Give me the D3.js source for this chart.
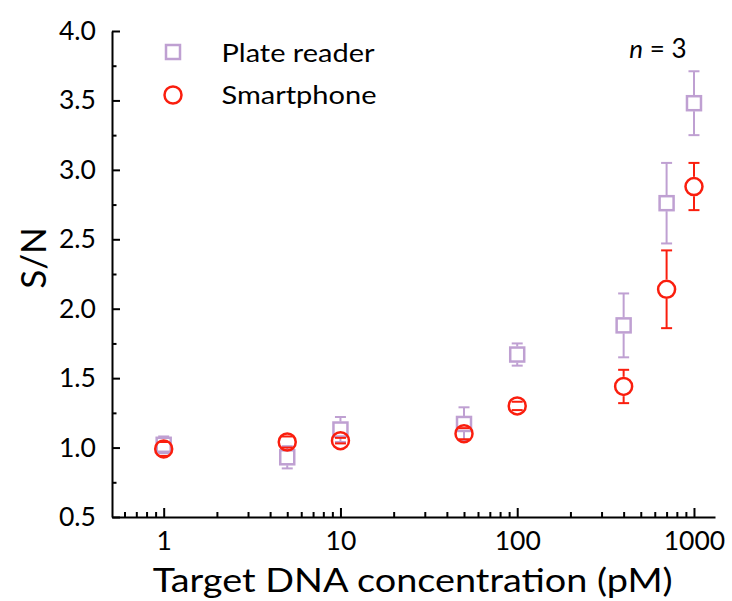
<!DOCTYPE html>
<html><head><meta charset="utf-8">
<script src="https://cdn.jsdelivr.net/npm/d3@7"></script>
<style>body{margin:0;background:#fff} text{font-family:Lato,"Open Sans",sans-serif;fill:#000}</style>
</head><body><svg id="c" width="732" height="601"></svg>
<script>
const concentrations = [1, 5, 10, 50, 100, 400, 700, 1000];
const plateMean = [1.02, 0.93, 1.13, 1.17, 1.67, 1.88, 2.76, 3.48];
const plateErr  = [0.06, 0.08, 0.09, 0.12, 0.08, 0.23, 0.29, 0.23];
const phoneMean = [0.99, 1.04, 1.05, 1.10, 1.30, 1.44, 2.14, 2.88];
const phoneErr  = [0.05, 0.04, 0.02, 0.04, 0.03, 0.12, 0.28, 0.17];
const xTicks = [1, 10, 100, 1000];
const xMinor = [0.6,0.7,0.8,0.9,2,3,4,5,6,7,8,9,20,30,40,50,60,70,80,90,200,300,400,500,600,700,800,900];
const yTicks = [0.5, 1.0, 1.5, 2.0, 2.5, 3.0, 3.5, 4.0];
const yMinor = [0.75, 1.25, 1.75, 2.25, 2.75, 3.25, 3.75];
const seriesNames = ["Plate reader", "Smartphone"];

const PURPLE = "#bfa0d2", RED = "#fa1e0e";
const svg = d3.select("#c");
const x = d3.scaleLog().domain([0.51, 1315]).range([112, 715]);
const y = d3.scaleLinear().domain([0.5, 4.0]).range([517, 31]);

// axes
const gx = svg.append("g").attr("transform", `translate(0,${y(0.5)})`);
gx.call(d3.axisBottom(x).tickValues(xTicks).tickFormat(d3.format("d")).tickSizeInner(-9).tickSizeOuter(0).tickPadding(14.5));
const gxm = svg.append("g").attr("transform", `translate(0,${y(0.5)})`);
gxm.call(d3.axisBottom(x).tickValues(xMinor).tickFormat("").tickSizeInner(-5).tickSizeOuter(0));
gxm.select(".domain").remove();
const gy = svg.append("g").attr("transform", `translate(${x.range()[0]},0)`);
gy.call(d3.axisLeft(y).tickValues(yTicks).tickFormat(d3.format(".1f")).tickSizeInner(-8).tickSizeOuter(0).tickPadding(16));
const gym = svg.append("g").attr("transform", `translate(${x.range()[0]},0)`);
gym.call(d3.axisLeft(y).tickValues(yMinor).tickFormat("").tickSizeInner(-4.5).tickSizeOuter(0));
gym.select(".domain").remove();
svg.selectAll(".domain").attr("stroke", "#000").attr("stroke-width", 2);
svg.selectAll(".tick line").attr("stroke", "#000").attr("stroke-width", 2);
gx.selectAll("text").attr("font-size", 26.5).attr("font-family", "Lato").attr("fill", "#000");
gy.selectAll("text").attr("font-size", 26.5).attr("font-family", "Lato").attr("fill", "#000");

// titles
svg.append("text").attr("x", 412.7).attr("y", 592).attr("text-anchor", "middle")
  .attr("font-size", 33.5).attr("textLength", 520).attr("lengthAdjust", "spacingAndGlyphs")
  .text("Target DNA concentration (pM)");
svg.append("text").attr("transform", "translate(46,258) rotate(-90)").attr("text-anchor", "middle")
  .attr("font-size", 35).text("S/N");
const nt = svg.append("text").attr("x", 658).attr("y", 58).attr("text-anchor", "middle").attr("font-size", 26);
nt.append("tspan").attr("font-style", "italic").text("n");
nt.append("tspan").text(" = 3");

// series
const SQ = 14, R = 8.5, CAP = 5.5;
function drawSeries(means, errs, color, shape) {
  const g = svg.append("g");
  const half = shape === "square" ? SQ / 2 + 1 : R + 1.2;
  concentrations.forEach((c, i) => {
    const cx = x(c), cy = y(means[i]);
    const yt = y(means[i] + errs[i]), yb = y(means[i] - errs[i]);
    if (cy - half > yt) g.append("line").attr("x1", cx).attr("x2", cx).attr("y1", yt).attr("y2", cy - half);
    if (yb > cy + half) g.append("line").attr("x1", cx).attr("x2", cx).attr("y1", cy + half).attr("y2", yb);
    g.append("line").attr("x1", cx - CAP).attr("x2", cx + CAP).attr("y1", yt).attr("y2", yt);
    g.append("line").attr("x1", cx - CAP).attr("x2", cx + CAP).attr("y1", yb).attr("y2", yb);
    if (shape === "square")
      g.append("rect").attr("x", cx - SQ / 2).attr("y", cy - SQ / 2).attr("width", SQ).attr("height", SQ);
    else
      g.append("circle").attr("cx", cx).attr("cy", cy).attr("r", R);
  });
  g.selectAll("line").attr("stroke", color).attr("stroke-width", 2);
  g.selectAll("rect,circle").attr("fill", "none").attr("stroke", color).attr("stroke-width", 2.5);
}
drawSeries(plateMean, plateErr, PURPLE, "square");
drawSeries(phoneMean, phoneErr, RED, "circle");

// legend
const lg = svg.append("g");
lg.append("rect").attr("x", 173 - SQ / 2).attr("y", 52 - SQ / 2).attr("width", SQ).attr("height", SQ)
  .attr("fill", "none").attr("stroke", PURPLE).attr("stroke-width", 2.5);
lg.append("circle").attr("cx", 173).attr("cy", 95).attr("r", R)
  .attr("fill", "none").attr("stroke", RED).attr("stroke-width", 2.5);
lg.append("text").attr("x", 221.5).attr("y", 61.5).attr("font-size", 25)
  .attr("textLength", 153).attr("lengthAdjust", "spacingAndGlyphs").text(seriesNames[0]);
lg.append("text").attr("x", 221.5).attr("y", 104).attr("font-size", 25)
  .attr("textLength", 155).attr("lengthAdjust", "spacingAndGlyphs").text(seriesNames[1]);
</script></body></html>
